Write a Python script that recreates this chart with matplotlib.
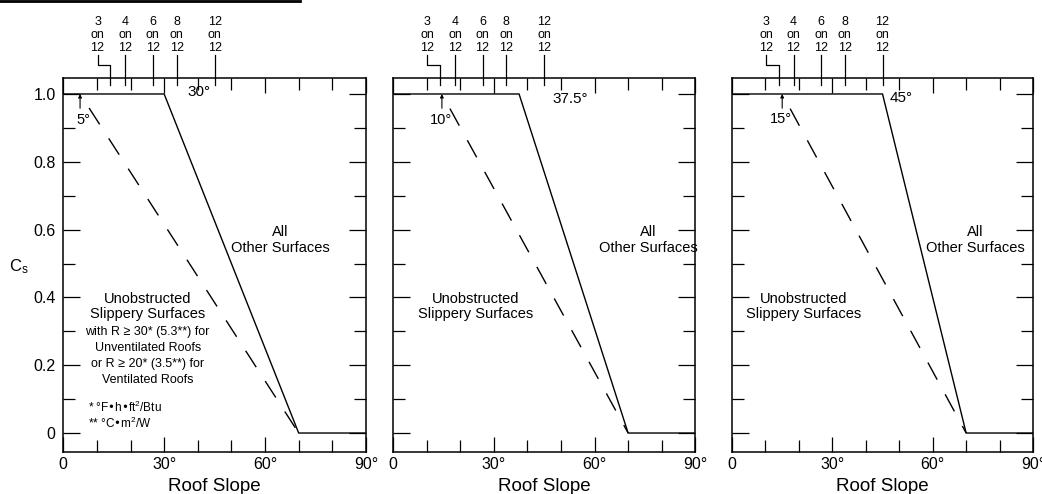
import matplotlib.pyplot as plt
from matplotlib.lines import Line2D
from matplotlib.ticker import FixedLocator

plt.rcParams['font.family'] = ['Liberation Sans', 'DejaVu Sans']
plt.rcParams['mathtext.default'] = 'regular'

# curves of the three panels
plateau_end = [30, 37.5, 45]          # solid line leaves Cs = 1.0
plateau_label = ['30°', '37.5°', '45°']
slippery_start = [5, 14.5, 15]        # dashed line leaves Cs = 1.0 (as drawn)
slippery_label = ['5°', '10°', '15°']
zero_slope = 70                        # both lines reach Cs = 0

# roof pitches along the top edge
pitch_names = ['3\non\n12', '4\non\n12', '6\non\n12', '8\non\n12', '12\non\n12']
pitch_angles = [14.0, 18.4, 26.6, 33.7, 45.0]

x_ticks = [0, 30, 60, 90]
x_tick_labels = ['0', '30°', '60°', '90°']
y_ticks = [0, 0.2, 0.4, 0.6, 0.8, 1.0]
y_tick_labels = ['0', '0.2', '0.4', '0.6', '0.8', '1.0']

fig = plt.figure(figsize=(10.42, 4.94), dpi=100)
lefts = [0.0607, 0.3774, 0.7025]
widths = [0.2905, 0.2898, 0.2889]

# text placements (data coords) per panel
plateau_lab_pos = [(40.3, 1.006), (52.6, 0.985), (50.6, 0.988)]
start_lab_pos = [(6.1, 0.923), (14.3, 0.923), (14.7, 0.926)]
other_pos = [64.6, 76.1, 72.8]
slip_pos = [25.1, 24.6, 21.3]

k = 'black'
for i in range(3):
    ax = fig.add_axes([lefts[i], 0.085, widths[i], 0.757])
    ax.set_xlim(0, 90)
    ax.set_ylim(-0.056, 1.047)
    for s in ax.spines.values():
        s.set_linewidth(1.1)

    ax.plot([0, plateau_end[i], zero_slope, 90], [1, 1, 0, 0], color=k, lw=1.0)
    ax.plot([slippery_start[i], zero_slope], [1, 0], color=k, lw=1.0,
            linestyle=(14, (14, 12)))

    ax.xaxis.set_major_locator(FixedLocator(x_ticks))
    ax.xaxis.set_minor_locator(FixedLocator([10, 20, 40, 50, 70, 80]))
    ax.yaxis.set_major_locator(FixedLocator(y_ticks))
    ax.yaxis.set_minor_locator(FixedLocator([0.1, 0.3, 0.5, 0.7, 0.9]))
    ax.tick_params(axis='x', which='both', direction='in', top=True, width=0.9,
                   labelsize=11.5, pad=3.5)
    ax.tick_params(axis='x', which='major', length=11)
    ax.tick_params(axis='x', which='minor', length=8.4)
    ax.tick_params(axis='y', which='both', direction='in', right=True, width=0.9,
                   labelsize=11.5, pad=5.5)
    ax.tick_params(axis='y', which='major', length=12.5)
    ax.tick_params(axis='y', which='minor', length=8.5)
    ax.set_xticklabels(x_tick_labels)
    if i == 0:
        ax.set_yticklabels(y_tick_labels)
        ax.text(-0.146, 0.49, r'C$_{s}$', transform=ax.get_yaxis_transform(),
                fontsize=12, ha='center', va='center')
    else:
        ax.set_yticklabels([])
    ax.set_xlabel('Roof Slope', fontsize=13.5, labelpad=4.5)

    # pitch marks on top
    for j, (name, a) in enumerate(zip(pitch_names, pitch_angles)):
        if j == 0:
            lx = 10.2
            ax.plot([a, a, lx, lx], [1.027, 1.086, 1.086, 1.115], color=k,
                    lw=0.9, clip_on=False)
        else:
            lx = a
            ax.plot([a, a], [1.027, 1.115], color=k, lw=0.9, clip_on=False)
        ax.text(lx, 1.117, name, ha='center', va='bottom', fontsize=9,
                linespacing=1.13, clip_on=False)

    tx, ty = plateau_lab_pos[i]
    ax.text(tx, ty, plateau_label[i], ha='center', va='center', fontsize=11)
    ax.annotate('', xy=(slippery_start[i], 1.0), xytext=(slippery_start[i], 0.958),
                arrowprops=dict(arrowstyle='-|>', lw=0.8, color=k, mutation_scale=5,
                                shrinkA=0, shrinkB=0))
    sx, sy = start_lab_pos[i]
    ax.text(sx, sy, slippery_label[i], ha='center', va='center', fontsize=10.5)

    ax.text(other_pos[i], 0.57, 'All\nOther Surfaces', ha='center', va='center',
            fontsize=10.5, linespacing=1.15)
    ax.text(slip_pos[i], 0.373, 'Unobstructed\nSlippery Surfaces', ha='center',
            va='center', fontsize=10.5, linespacing=1.15)

    if i == 0:
        ax.text(25.1, 0.228, 'with R ≥ 30* (5.3**) for\nUnventilated Roofs\n'
                'or R ≥ 20* (3.5**) for\nVentilated Roofs', ha='center',
                va='center', fontsize=9, linespacing=1.45)
        ax.text(7.3, 0.052, '* °F•h•ft$^2$/Btu\n** °C•m$^2$/W', ha='left',
                va='center', fontsize=8.5, linespacing=1.05)

fig.add_artist(Line2D([0, 0.288], [0.998, 0.998], transform=fig.transFigure,
                      color=k, lw=2))

fig.savefig('out.png', dpi=100)
